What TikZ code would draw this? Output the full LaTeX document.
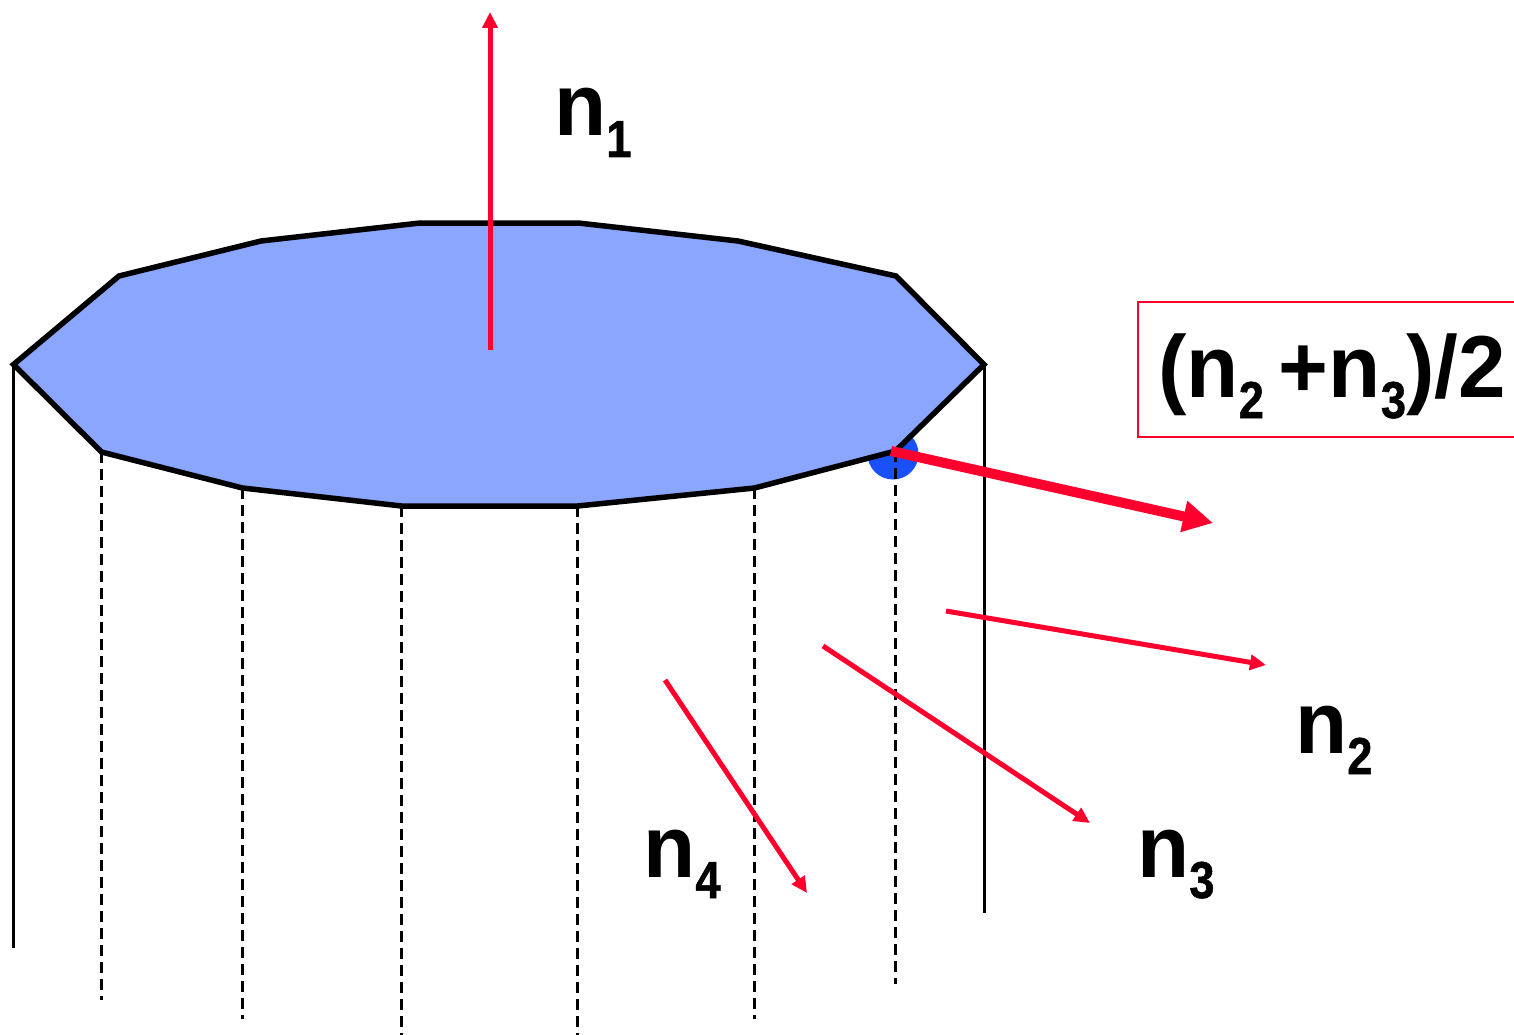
\documentclass[tikz,border=0pt]{standalone}
\usepackage{fontspec}
\setmainfont{Liberation Sans}[FakeStretch=0.97]
\newfontfamily\subfont{Liberation Sans}[FakeStretch=0.87,BoldFeatures={FakeBold=1}]
\usetikzlibrary{arrows.meta}
\definecolor{topblue}{RGB}{138,166,255}
\definecolor{dotblue}{RGB}{26,80,250}
\definecolor{nred}{RGB}{255,0,46}
\newcommand{\subdigit}[1]{\raisebox{-21pt}{\subfont\bfseries\fontsize{52}{52}\selectfont #1}}
\newcommand{\nsub}[2]{\textbf{\fontsize{88}{88}\selectfont #1\subdigit{#2}}}
\tikzset{
  rim/.style={draw=black,line width=5.5pt,line join=miter,fill=topblue},
  solidedge/.style={draw=black,line width=3pt},
  dashedge/.style={draw=black,line width=3pt,dash pattern=on 11pt off 6pt},
  normalarrow/.style={draw=nred,line width=5pt,-{Triangle[length=16pt,width=15pt]}},
  avgarrow/.style={draw=nred,line width=10pt,-{Triangle[length=30pt,width=30pt]}},
  lab/.style={inner sep=0pt,anchor=base west},
  vtx/.style={inner sep=0pt,minimum size=0pt,outer sep=0pt}
}
\begin{document}
\begin{tikzpicture}[x=1pt,y=-1pt]
\useasboundingbox (0,0) rectangle (1514,1035);
\coordinate (a) at (13.5,364.5);
\coordinate (b) at (119,276);
\coordinate (c) at (261,241);
\coordinate (d) at (420,223);
\coordinate (e) at (578,223);
\coordinate (f) at (738,241);
\coordinate (g) at (896,276);
\coordinate (h) at (984,364.5);
\coordinate (i) at (895.5,451);
\coordinate (j) at (754.5,488);
\coordinate (k) at (577.5,506);
\coordinate (l) at (401.5,506);
\coordinate (m) at (242.5,488);
\coordinate (o) at (101.5,452);
\node[vtx,circle,fill=dotblue,minimum size=51pt] (dot) at (893,454) {};
\coordinate (a2) at (13.5,948);
\coordinate (h2) at (984,913);
\coordinate (o2) at (101.5,1000);
\coordinate (m2) at (242.5,1019);
\coordinate (l2) at (401.5,1035);
\coordinate (k2) at (577.5,1035);
\coordinate (j2) at (754.5,1019);
\coordinate (i2) at (895.5,984);
\draw[solidedge] (a) -- (a2);
\draw[solidedge] (h) -- (h2);
\foreach \p/\q in {o/o2,m/m2,l/l2,k/k2,j/j2,i/i2} \draw[dashedge] (\p) -- (\q);
\filldraw[rim] (a) -- (b) -- (c) -- (d) -- (e) -- (f) -- (g) -- (h) -- (i) -- (j) -- (k) -- (l) -- (m) -- (o) -- cycle;
\coordinate (n1s) at (490,350); \coordinate (n1e) at (490,12);
\coordinate (n2s) at (946,611); \coordinate (n2e) at (1266,665);
\coordinate (n3s) at (823,646); \coordinate (n3e) at (1090,823);
\coordinate (n4s) at (665,680); \coordinate (n4e) at (807,893);
\coordinate (as) at (891,451); \coordinate (ae) at (1213,523);
\draw[normalarrow] (n1s) -- (n1e);
\draw[normalarrow] (n2s) -- (n2e);
\draw[normalarrow] (n3s) -- (n3e);
\draw[normalarrow] (n4s) -- (n4e);
\draw[avgarrow] (as) -- (ae);
\node[lab] (ln1) at (554,136) {\nsub{n}{1}};
\node[lab] (ln2) at (1295,753) {\nsub{n}{2}};
\node[lab] (ln3) at (1137,877) {\nsub{n}{3}};
\node[lab] (ln4) at (643,877) {\nsub{n}{4}};
\draw[draw=nred,line width=2.5pt] (1514,302) -- (1138,302) -- (1138,437) -- (1514,437);
\node[lab] (avg) at (1158,397) {\textbf{\fontsize{88}{88}\selectfont (n\subdigit{2}\hspace{15pt}+n\subdigit{3})/2}};
\end{tikzpicture}
\end{document}
